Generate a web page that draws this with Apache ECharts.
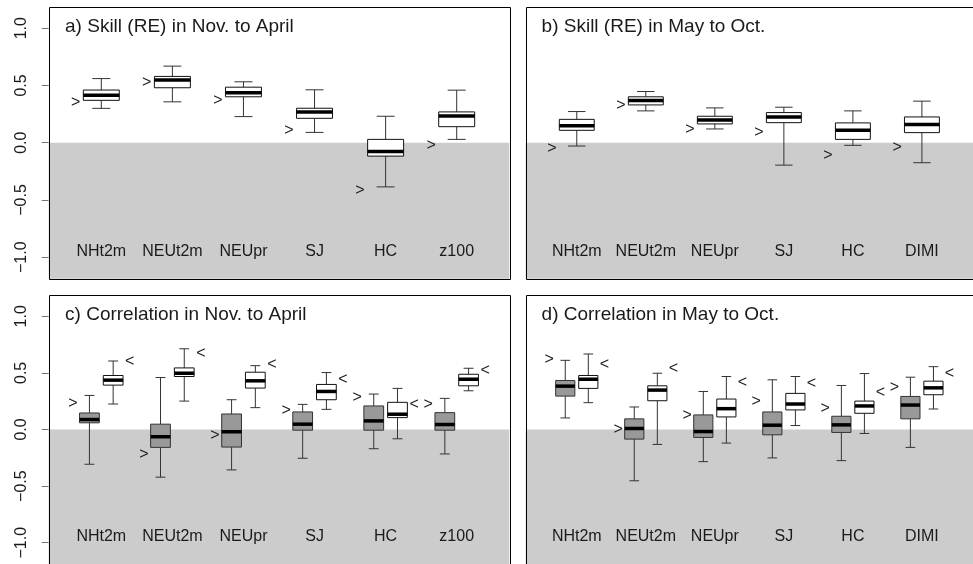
<!DOCTYPE html>
<html>
<head>
<meta charset="utf-8">
<script src="https://cdn.jsdelivr.net/npm/echarts@6/dist/echarts.min.js"></script>
<style>
  html, body { margin: 0; padding: 0; background: #fff; }
  #main { width: 973px; height: 564px; }
</style>
</head>
<body>
<div id="main"></div>
<script>
// categories
var catsNov = ['NHt2m', 'NEUt2m', 'NEUpr', 'SJ', 'HC', 'z100'];
var catsMay = ['NHt2m', 'NEUt2m', 'NEUpr', 'SJ', 'HC', 'DIMI'];

// box stats: [low whisker, q1, median, q3, high whisker]
var skillNov = [
  [0.300, 0.370, 0.415, 0.460, 0.560],
  [0.357, 0.480, 0.547, 0.579, 0.669],
  [0.228, 0.401, 0.436, 0.485, 0.532],
  [0.090, 0.213, 0.269, 0.301, 0.462],
  [-0.386, -0.117, -0.076, 0.029, 0.231],
  [0.029, 0.140, 0.234, 0.269, 0.459]
];
var skillNovRef = [0.353, 0.524, 0.371, 0.102, -0.421, -0.026];

var skillMay = [
  [-0.029, 0.108, 0.149, 0.204, 0.272],
  [0.278, 0.330, 0.368, 0.401, 0.447],
  [0.120, 0.164, 0.199, 0.231, 0.304],
  [-0.196, 0.175, 0.225, 0.263, 0.310],
  [-0.023, 0.029, 0.108, 0.173, 0.278],
  [-0.175, 0.088, 0.158, 0.225, 0.363]
];
var skillMayRef = [-0.055, 0.325, 0.114, 0.088, -0.111, -0.044];

var corNovGrey = [
  [-0.307, 0.059, 0.088, 0.146, 0.301],
  [-0.421, -0.158, -0.064, 0.047, 0.459],
  [-0.357, -0.155, -0.020, 0.137, 0.263],
  [-0.254, -0.006, 0.047, 0.155, 0.222],
  [-0.170, -0.006, 0.076, 0.208, 0.313],
  [-0.216, -0.006, 0.044, 0.149, 0.275]
];
var corNovGreyRef = [0.228, -0.219, -0.056, 0.164, 0.281, 0.219];
var corNovWhite = [
  [0.225, 0.392, 0.436, 0.477, 0.605],
  [0.251, 0.468, 0.497, 0.544, 0.713],
  [0.193, 0.366, 0.430, 0.506, 0.564],
  [0.178, 0.263, 0.336, 0.398, 0.503],
  [-0.082, 0.105, 0.135, 0.240, 0.363],
  [0.342, 0.386, 0.444, 0.488, 0.541]
];
var corNovWhiteRef = [0.602, 0.667, 0.576, 0.439, 0.219, 0.520];

var corMayGrey = [
  [0.102, 0.295, 0.383, 0.433, 0.611],
  [-0.453, -0.085, 0.009, 0.094, 0.199],
  [-0.284, -0.070, -0.018, 0.129, 0.336],
  [-0.251, -0.047, 0.038, 0.155, 0.439],
  [-0.275, -0.026, 0.041, 0.117, 0.389],
  [-0.158, 0.094, 0.216, 0.292, 0.462]
];
var corMayGreyRef = [0.617, 0.003, 0.123, 0.243, 0.181, 0.371];
var corMayWhite = [
  [0.237, 0.363, 0.444, 0.477, 0.667],
  [-0.132, 0.254, 0.348, 0.386, 0.497],
  [-0.120, 0.111, 0.184, 0.269, 0.468],
  [0.035, 0.173, 0.225, 0.319, 0.468],
  [-0.035, 0.143, 0.208, 0.251, 0.494],
  [0.181, 0.307, 0.368, 0.427, 0.555]
];
var corMayWhiteRef = [0.576, 0.535, 0.412, 0.406, 0.325, 0.491];

var panelTitles = [
  'a) Skill (RE) in Nov. to April',
  'b) Skill (RE) in May to Oct.',
  'c) Correlation in Nov. to April',
  'd) Correlation in May to Oct.'
];
var yTicks = [-1, -0.5, 0, 0.5, 1];
var labelY = -0.95;
var titleY = 1.015;

var X_MIN = 0.26, X_MAX = 6.74, Y_MIN = -1.188, Y_MAX = 1.188;
var FONT = '"Liberation Sans", Arial, Helvetica, sans-serif';
var TXT = '#1a1a1a';

var chart = echarts.init(document.getElementById('main'));

var grids = [
  { left: 48.7, top: 6.7, width: 460.6, height: 272 },
  { left: 525.7, top: 6.7, width: 460.6, height: 272 },
  { left: 48.7, top: 295, width: 460.6, height: 272 },
  { left: 525.7, top: 295, width: 460.6, height: 272 }
];

var xAxes = [], yAxes = [];
grids.forEach(function (g, i) {
  xAxes.push({ gridIndex: i, type: 'value', min: X_MIN, max: X_MAX, show: false });
  yAxes.push({
    gridIndex: i, type: 'value', min: Y_MIN, max: Y_MAX,
    show: i % 2 === 0,
    splitLine: { show: false },
    axisLine: { show: false },
    axisTick: { show: true, length: 7, customValues: yTicks, lineStyle: { color: '#777' } },
    axisLabel: {
      customValues: yTicks, rotate: 90, margin: 19,
      fontSize: 16, fontFamily: FONT, color: TXT,
      formatter: function (v) { return (v < 0 ? '\u2212' : '') + Math.abs(v).toFixed(1); }
    }
  });
});

function shadeSeries(gi) {
  return {
    type: 'custom', xAxisIndex: gi, yAxisIndex: gi, z: 1, silent: true,
    data: [[X_MIN, X_MAX]],
    renderItem: function (params, api) {
      var a = api.coord([X_MIN, 0]);
      var b = api.coord([X_MAX, Y_MIN]);
      return { type: 'rect', shape: { x: a[0], y: a[1], width: b[0] - a[0], height: b[1] - a[1] },
        style: { fill: '#cccccc' } };
    }
  };
}

function frameSeries(gi) {
  return {
    type: 'custom', xAxisIndex: gi, yAxisIndex: gi, z: 20, silent: true,
    data: [[X_MIN, X_MAX]],
    renderItem: function (params, api) {
      var a = api.coord([X_MIN, Y_MAX]);
      var b = api.coord([X_MAX, Y_MIN]);
      return { type: 'rect', shape: { x: Math.round(a[0]) + 0.5, y: Math.round(a[1]) + 0.5,
        width: Math.round(b[0] - a[0]), height: Math.round(b[1] - a[1]) },
        style: { fill: null, stroke: '#000', lineWidth: 1 } };
    }
  };
}

function boxSeries(gi, stats, offset, halfW, fill, stroke) {
  var data = stats.map(function (s, i) { return [i + 1 + offset].concat(s); });
  return {
    type: 'custom', xAxisIndex: gi, yAxisIndex: gi, z: 5, silent: true,
    data: data,
    renderItem: function (params, api) {
      var x = api.value(0);
      var lo = api.value(1), q1 = api.value(2), med = api.value(3), q3 = api.value(4), hi = api.value(5);
      var cap = halfW * 0.5;
      var c = function (xx, yy) { return api.coord([xx, yy]); };
      var bl = c(x - halfW, q1), tr = c(x + halfW, q3);
      var line = function (p1, p2, w, col) {
        return { type: 'line', shape: { x1: p1[0], y1: p1[1], x2: p2[0], y2: p2[1] },
          style: { stroke: col, lineWidth: w } };
      };
      return {
        type: 'group',
        children: [
          line(c(x, hi), c(x, q3), 1, '#333'),
          line(c(x, q1), c(x, lo), 1, '#333'),
          line(c(x - cap, hi), c(x + cap, hi), 1, '#333'),
          line(c(x - cap, lo), c(x + cap, lo), 1, '#333'),
          { type: 'rect', shape: { x: bl[0], y: tr[1], width: tr[0] - bl[0], height: bl[1] - tr[1] },
            style: { fill: fill, stroke: stroke, lineWidth: 1 } },
          line(c(x - halfW, med), c(x + halfW, med), 3.5, '#000')
        ]
      };
    }
  };
}

function textSeries(gi, items, size, align) {
  return {
    type: 'custom', xAxisIndex: gi, yAxisIndex: gi, z: 10, silent: true,
    data: items,
    renderItem: function (params, api) {
      var p = api.coord([api.value(0), api.value(1)]);
      return { type: 'text', x: p[0], y: p[1],
        style: { text: items[params.dataIndex][2], fill: TXT, font: size + 'px ' + FONT,
          textAlign: align, textVerticalAlign: 'middle' } };
    }
  };
}

function catLabels(cats) {
  return cats.map(function (c, i) { return [i + 1, labelY, c]; });
}
function marks(refs, offset, ch) {
  return refs.map(function (v, i) { return [i + 1 + offset, v, ch]; });
}

var series = [];
[0, 1, 2, 3].forEach(function (gi) {
  series.push(shadeSeries(gi));
  series.push(frameSeries(gi));
  series.push(textSeries(gi, [[0.49, titleY, panelTitles[gi]]], 19, 'left'));
  series.push(textSeries(gi, catLabels(gi % 2 === 0 ? catsNov : catsMay), 16, 'center'));
});

series.push(boxSeries(0, skillNov, 0, 0.253, '#fff', '#111'));
series.push(textSeries(0, marks(skillNovRef, -0.36, '>'), 16, 'center'));
series.push(boxSeries(1, skillMay, 0, 0.253, '#fff', '#111'));
series.push(textSeries(1, marks(skillMayRef, -0.36, '>'), 16, 'center'));

series.push(boxSeries(2, corNovGrey, -0.167, 0.139, '#999999', '#333'));
series.push(boxSeries(2, corNovWhite, 0.167, 0.139, '#fff', '#111'));
series.push(textSeries(2, marks(corNovGreyRef, -0.40, '>'), 16, 'center'));
series.push(textSeries(2, marks(corNovWhiteRef, 0.40, '<'), 16, 'center'));

series.push(boxSeries(3, corMayGrey, -0.167, 0.139, '#999999', '#333'));
series.push(boxSeries(3, corMayWhite, 0.167, 0.139, '#fff', '#111'));
series.push(textSeries(3, marks(corMayGreyRef, -0.40, '>'), 16, 'center'));
series.push(textSeries(3, marks(corMayWhiteRef, 0.40, '<'), 16, 'center'));

var option = {
  animation: false,
  backgroundColor: '#fff',
  grid: grids,
  xAxis: xAxes,
  yAxis: yAxes,
  series: series
};
chart.setOption(option);
</script>
</body>
</html>
